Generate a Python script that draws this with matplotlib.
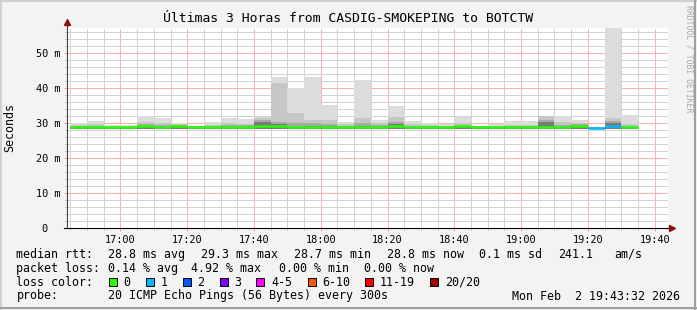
import matplotlib
matplotlib.use("Agg")
import matplotlib.pyplot as plt
import numpy as np
from matplotlib.lines import Line2D
from matplotlib.patches import Rectangle

# 5 minute intervals, start time in minutes after midnight (16:45 .. 19:30)
starts = [16 * 60 + 45 + 5 * k for k in range(34)]

# outer smoke (max ping), ms
smoke_max = [30.0, 30.6, 29.4, 29.4, 32.1, 31.5, 30.2, 29.3, 30.4, 31.6,
             31.1, 31.9, 43.3, 40.2, 43.3, 35.3, 30.5, 42.4, 30.9, 35.0,
             30.7, 30.0, 29.7, 31.9, 29.3, 29.7, 30.7, 30.7, 32.1, 32.1,
             30.9, 28.9, 58.0, 32.4]
smoke_mid = [29.5, 29.8, 29.2, 29.2, 30.3, 30.0, 29.8, 29.1, 29.6, 30.0,
             29.9, 31.5, 41.4, 32.9, 30.9, 30.9, 29.7, 31.5, 30.0, 31.7,
             29.8, 29.5, 29.3, 30.0, 29.1, 29.3, 29.6, 29.6, 32.0, 30.3,
             30.2, 28.9, 31.4, 29.8]
smoke_inner = [29.1, 29.2, 29.0, 29.0, 29.8, 29.5, 29.5, 29.0, 29.2, 29.4,
               29.4, 31.0, 30.5, 30.0, 30.0, 29.8, 29.3, 30.0, 29.4, 30.5,
               29.3, 29.2, 29.1, 29.6, 29.0, 29.1, 29.2, 29.2, 31.0, 29.6,
               29.7, 28.9, 30.6, 29.3]
smoke_core = [28.8, 28.8, 28.8, 28.8, 29.3, 28.9, 29.1, 28.8, 28.8, 28.8,
              28.8, 30.4, 29.8, 28.8, 29.3, 29.1, 28.8, 29.2, 28.8, 29.9,
              28.8, 28.8, 28.8, 29.1, 28.8, 28.8, 28.8, 28.8, 30.3, 29.0,
              29.2, 28.7, 30.0, 28.8]
smoke_min = 28.5

median = [28.8, 28.8, 28.8, 28.8, 29.2, 28.9, 29.1, 28.8, 28.8, 28.8,
          28.8, 29.2, 29.2, 28.8, 29.0, 28.9, 28.8, 28.8, 28.8, 29.2,
          28.8, 28.8, 28.8, 29.1, 28.8, 28.8, 28.8, 28.8, 28.9, 28.8,
          29.2, 28.7, 29.1, 28.8]
# lost pings (of 20) per interval
loss = [0] * 31 + [1, 1, 0]

loss_labels = ["0", "1", "2", "3", "4-5", "6-10", "11-19", "20/20"]
loss_colors = ["#26ff00", "#00b8ff", "#0059ff", "#7e00ff", "#ff00ff",
               "#ff5500", "#ff0000", "#a00000"]

W, H = 697, 310
fig = plt.figure(figsize=(W / 100, H / 100), dpi=100, facecolor="#f3f3f3")

# plot area in pixels
left, right, top, bottom = 67, 668, 28.3, 228.3
ax = fig.add_axes([left / W, 1 - bottom / H, (right - left) / W, (bottom - top) / H])
ax.set_facecolor("white")

# smoke
for vals, col in [(smoke_max, "#dcdcdc"), (smoke_mid, "#c6c6c6"),
                  (smoke_inner, "#a8a8a8"), (smoke_core, "#7a7a7a")]:
    ax.bar(starts, np.array(vals) - smoke_min, bottom=smoke_min, width=5,
           align="edge", color=col, linewidth=0, zorder=2)

# median line coloured by loss
def loss_color(n):
    if n <= 3:
        return loss_colors[n]
    if n <= 5:
        return loss_colors[4]
    if n <= 10:
        return loss_colors[5]
    if n <= 19:
        return loss_colors[6]
    return loss_colors[7]

seg_colors = [loss_color(n) for n in loss]
ax.hlines(median, starts, np.array(starts) + 5, colors=seg_colors, lw=1.8,
          zorder=4, capstyle="butt")

# axes / grid
ax.set_xlim(16 * 60 + 44, 19 * 60 + 44)
ax.set_ylim(0, 57.14)
major_x = list(range(17 * 60, 19 * 60 + 41, 20))
ax.set_xticks(major_x)
ax.set_xticklabels([f"{m // 60}:{m % 60:02d}" for m in major_x])
ax.set_xticks(list(range(16 * 60 + 45, 19 * 60 + 44, 5)), minor=True)
ax.set_yticks(range(0, 51, 10))
ax.set_yticklabels(["0  "] + [f"{v} m" for v in range(10, 51, 10)])
ax.set_yticks(range(0, 57, 2), minor=True)

ax.grid(which="minor", color="#d2d2d2", lw=0.72, antialiased=False,
        linestyle=(0, (1, 1)), zorder=3)
ax.grid(which="major", color="#f8b0b0", lw=0.72, antialiased=False,
        linestyle=(0, (1, 1)), zorder=3)

for lab in ax.get_xticklabels() + ax.get_yticklabels():
    lab.set_fontfamily("DejaVu Sans Mono")
    lab.set_fontsize(7.35)
    lab.set_color("#000000")
ax.tick_params(which="major", length=2.2, width=0.72, color="#ff9999",
               pad=2.5)
ax.tick_params(which="minor", length=1.5, width=0.72, color="#bbbbbb")

for s in ["top", "right"]:
    ax.spines[s].set_visible(False)
ax.spines["left"].set_color("#404040")
ax.spines["bottom"].set_color("#000000")
ax.spines["left"].set_linewidth(0.8)
ax.spines["bottom"].set_linewidth(0.8)
ax.spines["left"].set_bounds(0, 58.5)
ax.spines["bottom"].set_bounds(16 * 60 + 43, 19 * 60 + 45)
ax.spines["left"].set_zorder(5)
ax.spines["bottom"].set_zorder(5)

ax.plot([1 + 4 / 601], [0], marker=">", ms=4.5, color="#8b1010",
        transform=ax.transAxes, clip_on=False, zorder=6)
ax.plot([0], [1 + 6 / 200], marker="^", ms=4.5, color="#8b1010",
        transform=ax.transAxes, clip_on=False, zorder=6)

# text
def px(x, y):
    return x / W, 1 - y / H

mono = "DejaVu Sans Mono"
fig.text(*px(348.5, 19), "Últimas 3 Horas from CASDIG-SMOKEPING to BOTCTW",
         family=mono, size=9.45, ha="center", va="center")
fig.text(*px(10, 127.5), "Seconds", family=mono, size=8.4, rotation=90,
         ha="center", va="center")
fig.text(*px(688.5, 5), "RRDTOOL / TOBI OETIKER", family=mono, size=5.9,
         rotation=-90, ha="center", va="top", color="#a8a8a8")

row_y = [254.3, 268.3, 282.3, 296.0]
leg = dict(family=mono, size=8.4, va="center", ha="left")

row1 = [(16.4, "median rtt:"), (107.6, "28.8 ms avg"), (200.6, "29.3 ms max"),
        (293.6, "28.7 ms min"), (386.7, "28.8 ms now"), (479.1, "0.1 ms sd"),
        (557.8, "241.1"), (614.7, "am/s")]
row2 = [(16.4, "packet loss:"), (107.6, "0.14 % avg"), (191.0, "4.92 % max"),
        (279.0, "0.00 % min"), (364.4, "0.00 % now")]
for x, t in row1:
    fig.text(*px(x, row_y[0]), t, **leg)
for x, t in row2:
    fig.text(*px(x, row_y[1]), t, **leg)

fig.text(*px(16.4, row_y[2]), "loss color:", **leg)
box_x = [108.9, 145.8, 182.7, 219.6, 256.4, 307.6, 365.3, 430.0]
for bx, lab, col in zip(box_x, loss_labels, loss_colors):
    fig.patches.append(Rectangle(px(bx, row_y[2] + 4), 8 / W, 8 / H,
                                 transform=fig.transFigure, facecolor=col,
                                 edgecolor="black", lw=0.7))
    fig.text(*px(bx + 14.7, row_y[2]), lab, **leg)

fig.text(*px(16.4, row_y[3]), "probe:", **leg)
fig.text(*px(107.6, row_y[3]), "20 ICMP Echo Pings (56 Bytes) every 300s", **leg)
fig.text(*px(680.5, row_y[3]), "Mon Feb  2 19:43:32 2026", family=mono,
         size=8.4, va="center", ha="right")

# frame
fig.lines.append(Line2D([0, 1], [1 - 1 / H, 1 - 1 / H], transform=fig.transFigure,
                        color="#d0d0d0", lw=1.5))
fig.lines.append(Line2D([1 / W, 1 / W], [0, 1], transform=fig.transFigure,
                        color="#d0d0d0", lw=1.5))
fig.lines.append(Line2D([0, 1], [2 / H, 2 / H], transform=fig.transFigure,
                        color="#a0a0a0", lw=1.5))
fig.lines.append(Line2D([1 - 2 / W, 1 - 2 / W], [0, 1], transform=fig.transFigure,
                        color="#a0a0a0", lw=1.5))

fig.savefig("out.png", dpi=100, facecolor=fig.get_facecolor())
